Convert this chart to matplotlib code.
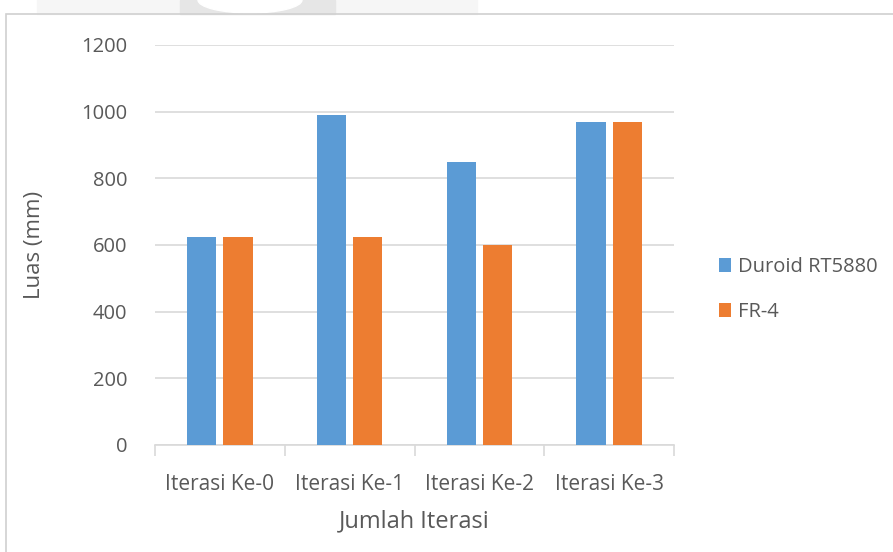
import numpy as np
import matplotlib.pyplot as plt
from matplotlib.patches import Rectangle, Ellipse

plt.rcParams['font.family'] = ['Open Sans', 'DejaVu Sans']

categories = ['Iterasi Ke-0', 'Iterasi Ke-1', 'Iterasi Ke-2', 'Iterasi Ke-3']
duroid = [625, 990, 850, 970]
fr4 = [625, 625, 600, 970]
series_names = ['Duroid RT5880', 'FR-4']

blue = '#5B9BD5'
orange = '#ED7D31'
txt = '#595959'
grid = '#D9D9D9'

fig = plt.figure(figsize=(8.93, 5.52), dpi=100)
H = 552.0

# faint watermark remnants above the chart frame
fig.patches.append(Rectangle((37 / 893, (H - 14) / H), 440 / 893, 14 / H,
                             transform=fig.transFigure, color='#F6F6F6', zorder=0))
fig.patches.append(Rectangle((180 / 893, (H - 14) / H), 155 / 893, 14 / H,
                             transform=fig.transFigure, color='#E6E6E6', zorder=0))
fig.patches.append(Ellipse((250 / 893, H / H), 104 / 893, 26 / H,
                           transform=fig.transFigure, color='white', zorder=0))

# chart frame (cut off at right/bottom like the scan)
fig.patches.append(Rectangle((6 / 893, -0.1), 1.1, (H - 14) / H + 0.1,
                             transform=fig.transFigure, fill=False,
                             edgecolor='#D0D0D0', linewidth=1.2))

ax = fig.add_axes([155 / 893, 107 / H, 519 / 893, 400 / H])

x = np.arange(len(categories))
w = 0.225
ax.bar(x - w / 2 - 0.027, duroid, w, color=blue, label=series_names[0], zorder=3)
ax.bar(x + w / 2 + 0.027, fr4, w, color=orange, label=series_names[1], zorder=3)

ax.set_xlim(-0.5, 3.5)
ax.set_ylim(0, 1200)
ax.set_yticks(range(0, 1201, 200))
ax.yaxis.grid(True, color=grid, linewidth=1.2, zorder=0)
ax.set_xticks(x)
ax.set_xticklabels(categories)
ax.set_xticks(np.arange(-0.5, 4, 1), minor=True)
ax.tick_params(axis='x', which='major', length=0, pad=21, labelsize=15, colors=txt)
ax.tick_params(axis='x', which='minor', length=8, color=grid, width=1.2)
ax.tick_params(axis='y', length=0, pad=20, labelsize=14.5, colors=txt)

for s in ['top', 'right', 'left']:
    ax.spines[s].set_visible(False)
ax.spines['bottom'].set_color(grid)
ax.spines['bottom'].set_linewidth(1.2)

ax.set_xlabel('Jumlah Iterasi', fontsize=17, color=txt, labelpad=10)
ax.set_ylabel('Luas (mm)', fontsize=16, color=txt, labelpad=26)

ax.legend(loc='center left', bbox_to_anchor=(719 / 893, (H - 289.5) / H),
          bbox_transform=fig.transFigure, frameon=False, borderpad=0,
          borderaxespad=0, fontsize=14.5, labelcolor=txt, handlelength=0.6,
          handleheight=0.75, handletextpad=0.35, labelspacing=1.25)

fig.savefig('out.png', dpi=100)
